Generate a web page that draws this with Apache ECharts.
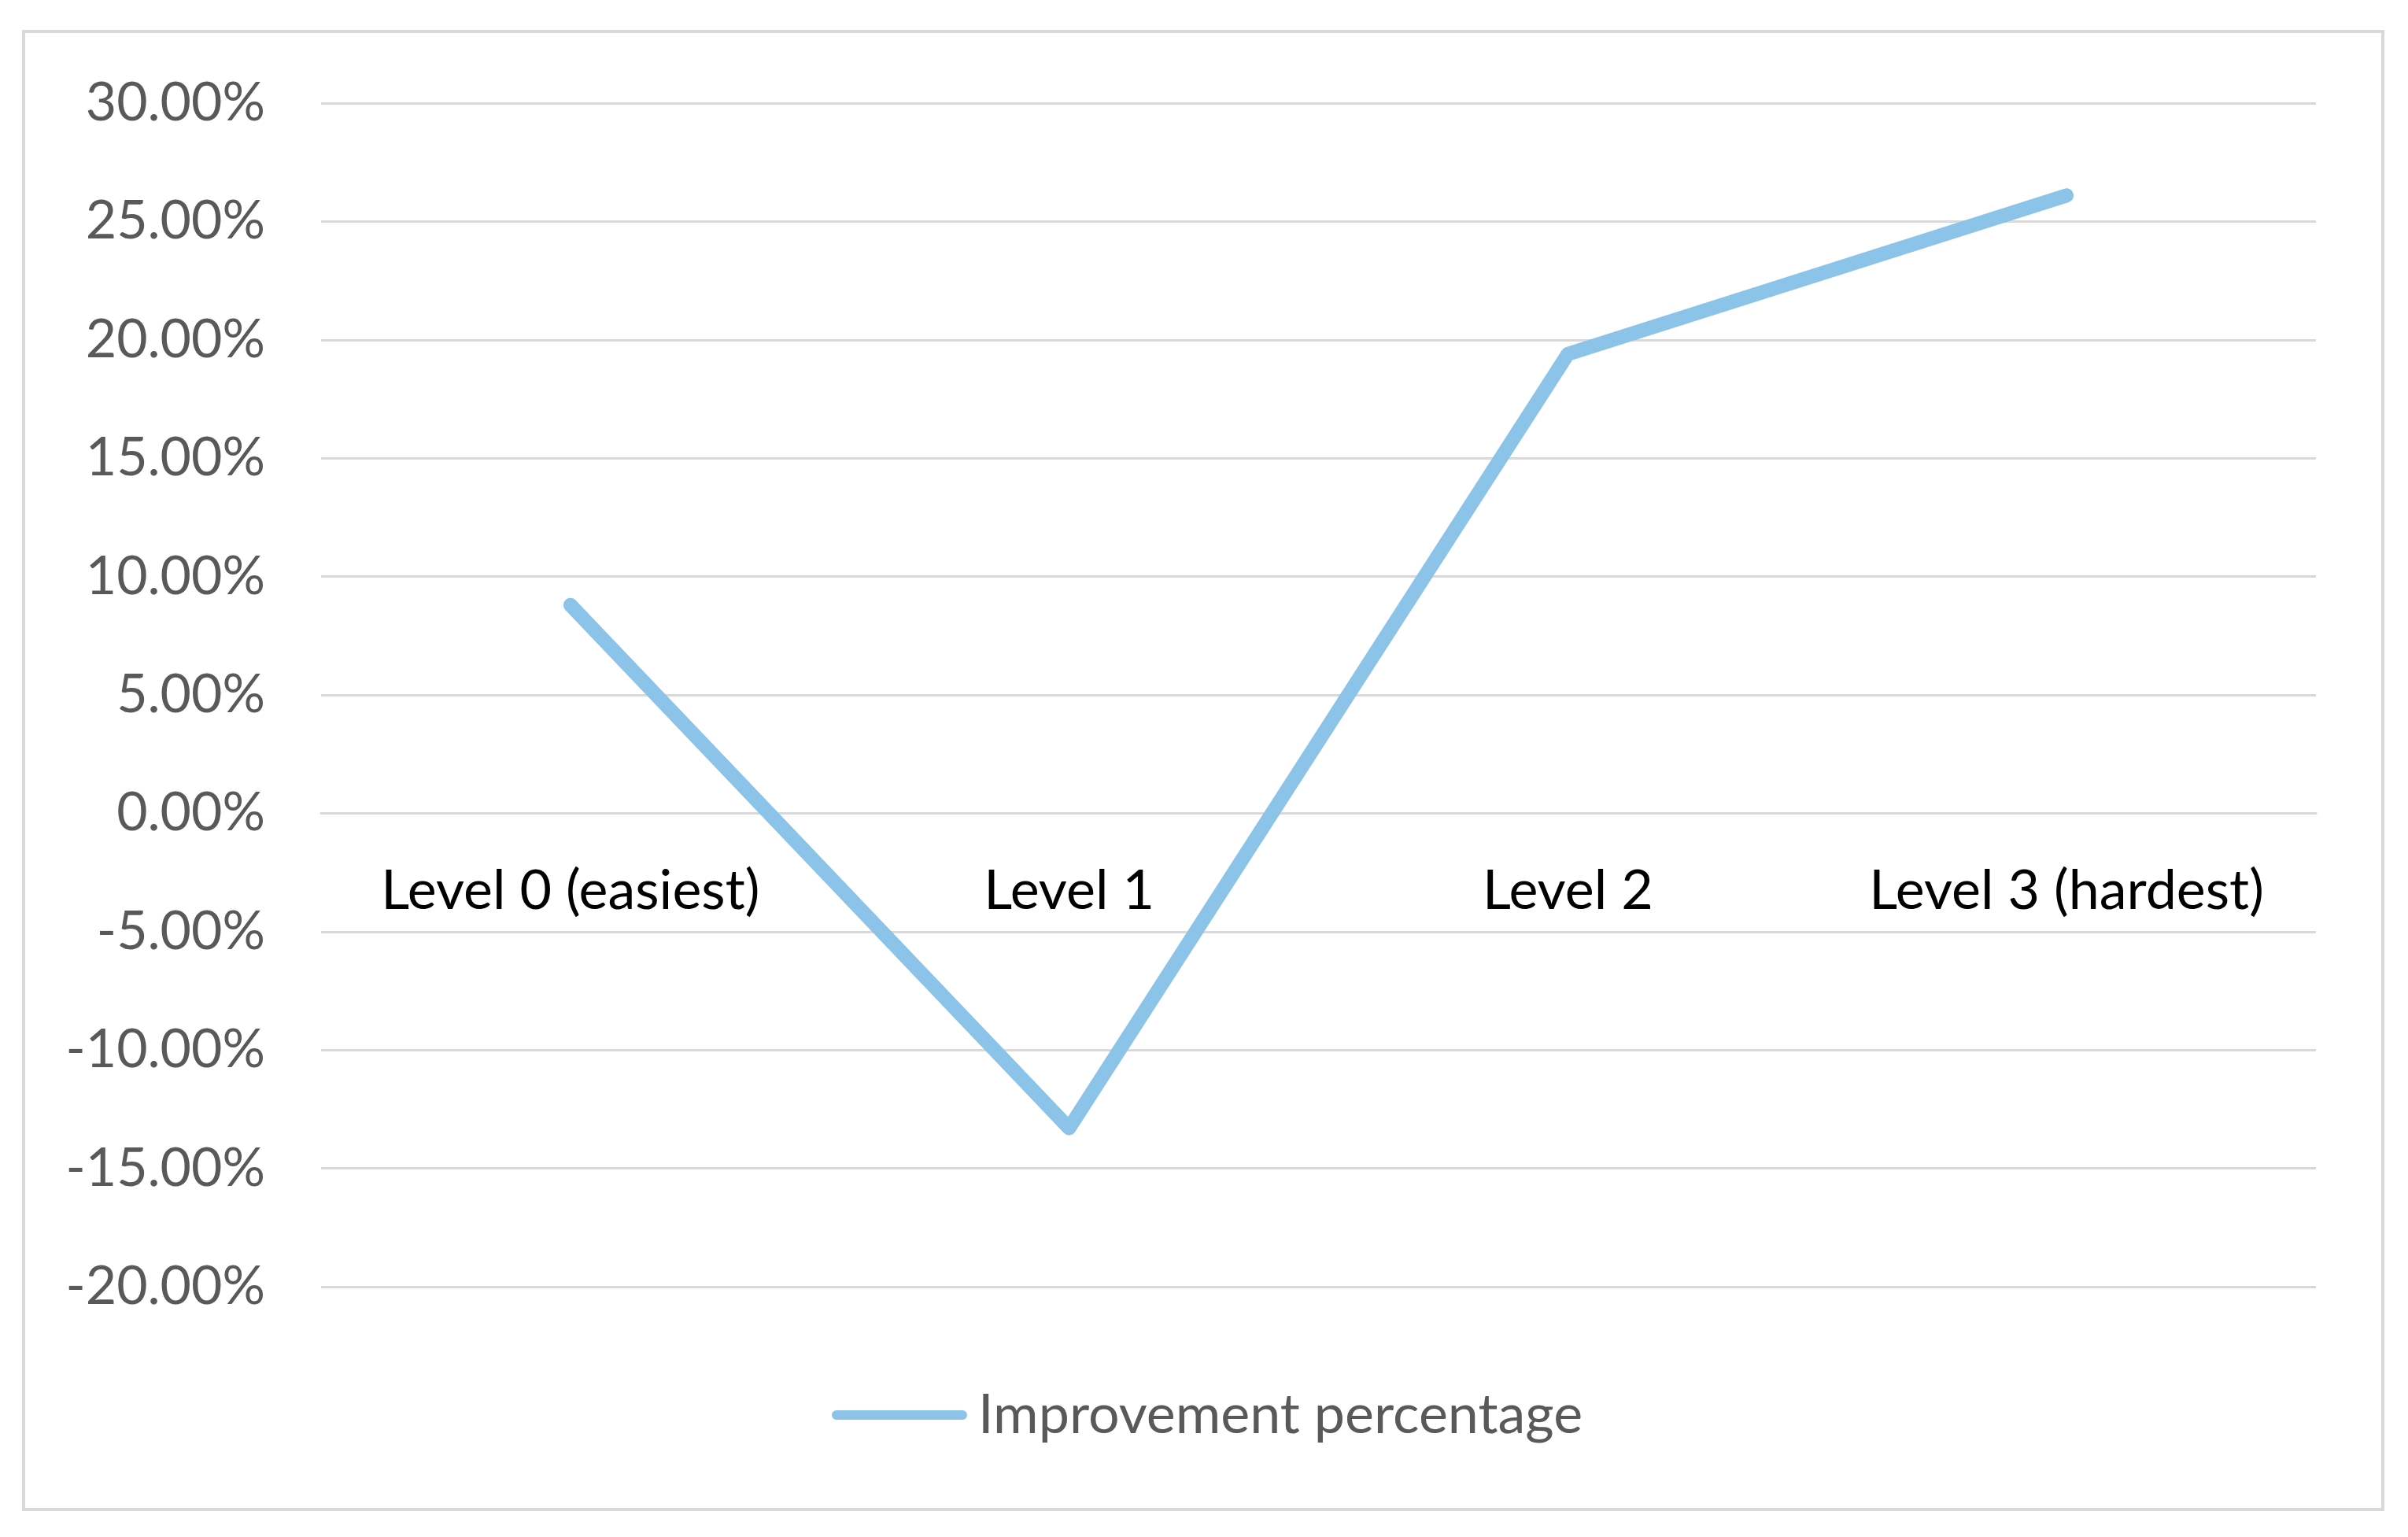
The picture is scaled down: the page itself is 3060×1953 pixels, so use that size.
<!DOCTYPE html>
<html>
<head>
<meta charset="utf-8">
<script src="https://cdn.jsdelivr.net/npm/echarts@6/dist/echarts.min.js"></script>
<style>
html,body{margin:0;padding:0;background:#fff;}
#chart{width:3060px;height:1953px;}
</style>
</head>
<body>
<div id="chart"></div>
<script>
const categories = ['Level 0 (easiest)', 'Level 1', 'Level 2', 'Level 3 (hardest)'];
const improvement = [8.8, -13.3, 19.4, 26.1];
const seriesName = 'Improvement percentage';
const yMin = -20, yMax = 30, yStep = 5;

const FONT = 'Lato, "Noto Sans", sans-serif';
const GRID_TOP = 131, GRID_BOTTOM = 318, H = 1953;
const plotH = H - GRID_TOP - GRID_BOTTOM;
// distance from bottom of plot to the zero line, in px (derived from axis range)
const zeroOffset = plotH * (0 - yMin) / (yMax - yMin);

const chart = echarts.init(document.getElementById('chart'), null, {renderer: 'canvas'});
chart.setOption({
  backgroundColor: '#ffffff',
  animation: false,
  graphic: [{
    type: 'rect',
    shape: {x: 30, y: 40, width: 2998, height: 1878},
    style: {fill: 'none', stroke: '#d9d9d9', lineWidth: 4},
    silent: true
  }],
  grid: {left: 408, right: 117, top: GRID_TOP, bottom: GRID_BOTTOM, containLabel: false},
  legend: {
    data: [seriesName],
    left: 1052,
    top: 1758,
    itemWidth: 172,
    itemHeight: 12,
    icon: 'path://M6,0 H166 A6,6 0 0 1 166,12 H6 A6,6 0 0 1 6,0 Z',
    textStyle: {fontFamily: FONT, fontSize: 70, color: '#595959', padding: [0, 0, 0, 9]}
  },
  xAxis: {
    type: 'category',
    data: categories,
    boundaryGap: true,
    position: 'bottom',
    offset: -zeroOffset,
    axisLine: {show: true, onZero: false, lineStyle: {color: '#d9d9d9', width: 3}},
    axisTick: {show: false},
    axisLabel: {fontFamily: FONT, fontSize: 70, color: '#000000', margin: 64, interval: 0},
    splitLine: {show: false}
  },
  yAxis: {
    type: 'value',
    min: yMin,
    max: yMax,
    interval: yStep,
    axisLine: {show: false},
    axisTick: {show: false},
    axisLabel: {
      fontFamily: FONT, fontSize: 68, color: '#595959', margin: 71,
      formatter: v => v.toFixed(2) + '%'
    },
    splitLine: {show: true, lineStyle: {color: '#d9d9d9', width: 3}}
  },
  series: [{
    name: seriesName,
    type: 'line',
    data: improvement,
    symbol: 'none',
    lineStyle: {color: '#8cc3e9', width: 18, cap: 'round', join: 'round'},
    itemStyle: {color: '#8cc3e9'}
  }]
});
</script>
</body>
</html>
